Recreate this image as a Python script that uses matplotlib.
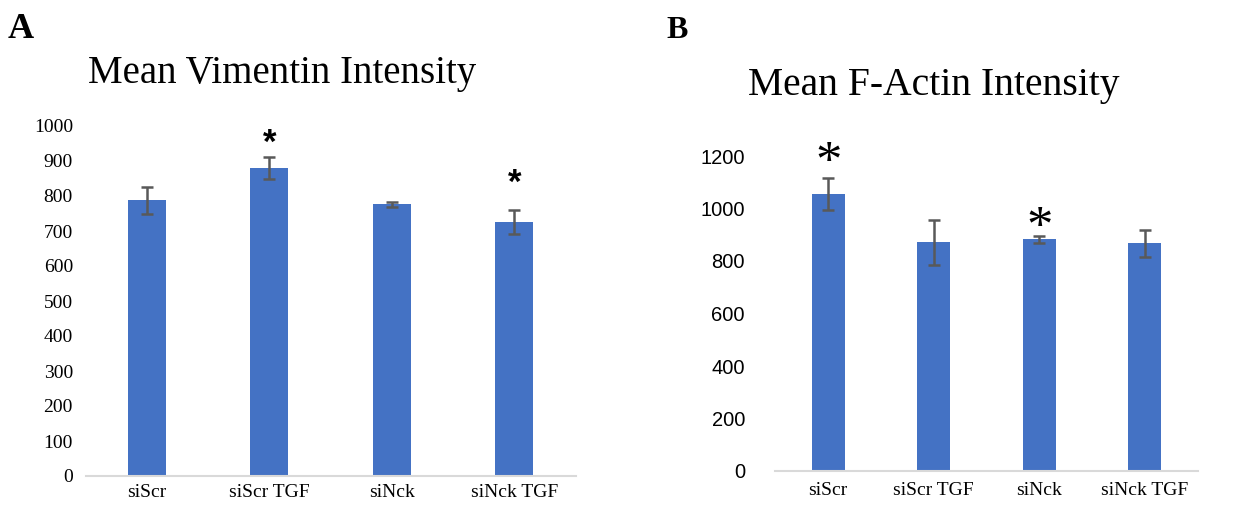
import matplotlib.pyplot as plt

# data
groups = ["siScr", "siScr TGF", "siNck", "siNck TGF"]

vim_mean = [788, 880, 776, 725]
vim_err = [38, 32, 6, 35]
vim_stars = [1, 3]          # indices of groups marked with *
vim_star_y = [950, 835]

act_mean = [1055, 871, 883, 867]
act_err = [60, 87, 13, 53]
act_stars = [0, 2]
act_star_y = [1168, 922]

bar_color = "#4472C4"
err_color = "#595959"
axis_color = "#D9D9D9"

W, H = 1249, 507
fig = plt.figure(figsize=(W / 100, H / 100), dpi=100)


def px_axes(left, right, top, bottom):
    return fig.add_axes([left / W, 1 - bottom / H, (right - left) / W, (bottom - top) / H])


def style(ax, ymax, step):
    for s in ["top", "right", "left"]:
        ax.spines[s].set_visible(False)
    ax.spines["bottom"].set_color(axis_color)
    ax.spines["bottom"].set_linewidth(1.5)
    ax.set_xlim(-0.5, len(groups) - 0.5)
    ax.set_ylim(0, ymax)
    ax.set_yticks(range(0, ymax + 1, step))
    ax.tick_params(axis="both", length=0)
    ax.set_xticks(range(len(groups)))
    ax.set_xticklabels(groups, fontfamily="Liberation Serif", fontsize=14)


# ---------- panel A ----------
axA = px_axes(85.5, 575.5, 126, 476)
axA.bar(range(len(groups)), vim_mean, width=0.31, color=bar_color,
        yerr=vim_err, error_kw=dict(ecolor=err_color, elinewidth=1.8, capsize=4, capthick=1.8))
style(axA, 1000, 100)
axA.tick_params(axis="y", pad=9)
axA.tick_params(axis="x", pad=6)
for lab in axA.get_yticklabels():
    lab.set_fontfamily("Liberation Serif")
    lab.set_fontsize(14)
for i, y in zip(vim_stars, vim_star_y):
    axA.text(i, y, "*", ha="center", va="center", fontsize=25,
             fontweight="bold", fontfamily="Liberation Sans")
fig.text(282 / W, 1 - 73 / H, "Mean Vimentin Intensity", ha="center", va="center",
         fontfamily="Liberation Serif", fontsize=28)
fig.text(21 / W, 1 - 30 / H, "A", ha="center", va="center",
         fontfamily="Liberation Serif", fontweight="bold", fontsize=26)

# ---------- panel B ----------
axB = px_axes(775.5, 1197.5, 156, 471)
axB.bar(range(len(groups)), act_mean, width=0.31, color=bar_color,
        yerr=act_err, error_kw=dict(ecolor=err_color, elinewidth=1.8, capsize=4, capthick=1.8))
style(axB, 1200, 200)
axB.tick_params(axis="y", pad=22)
axB.tick_params(axis="x", pad=8)
for lab in axB.get_yticklabels():
    lab.set_fontfamily("Liberation Sans")
    lab.set_fontsize(14.5)
for i, y in zip(act_stars, act_star_y):
    axB.text(i, y, "*", ha="center", va="center", fontsize=38,
             fontfamily="Liberation Serif")
fig.text(934 / W, 1 - 85 / H, "Mean F-Actin Intensity", ha="center", va="center",
         fontfamily="Liberation Serif", fontsize=28.5)
fig.text(677 / W, 1 - 31 / H, "B", ha="center", va="center",
         fontfamily="Liberation Serif", fontweight="bold", fontsize=23)

fig.savefig("out.png", dpi=100)
